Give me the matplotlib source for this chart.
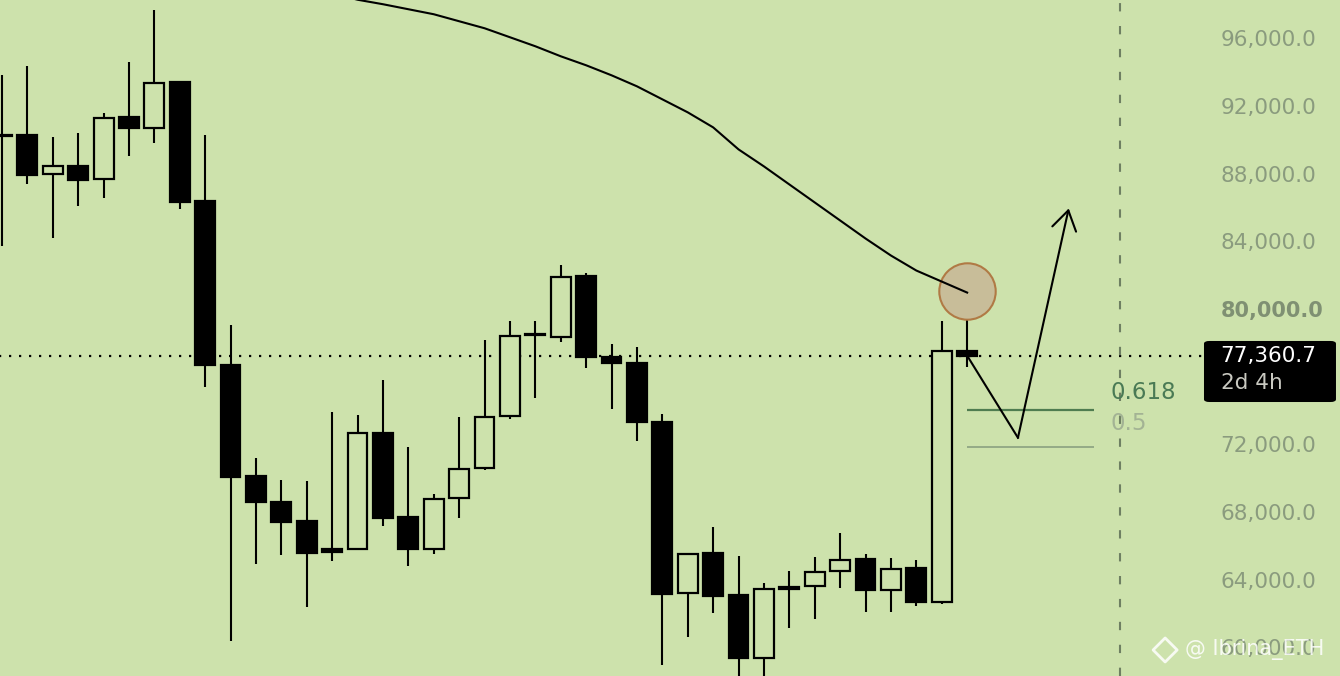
import matplotlib
matplotlib.use("Agg")
import matplotlib.pyplot as plt
import matplotlib.transforms as mtransforms
from matplotlib.patches import FancyBboxPatch

# candle data
opens = [90350, 90380, 88070, 88545, 87775, 91444, 90793, 93515, 86473, 76828,
         70260, 68722, 67598, 65941, 65941, 72805, 67834, 65941, 68959, 70734,
         73811, 78604, 78485, 82095, 77302, 76947, 73456, 63337, 65704, 63219,
         59491, 63690, 63751, 64639, 65349, 63515, 64817, 62805, 77657]
highs = [93929, 94460, 90261, 90497, 91681, 94698, 97775, 93515, 90379, 79195,
         71325, 70024, 69965, 74048, 73870, 75941, 71976, 69195, 73752, 78308,
         79432, 79432, 82746, 82273, 78071, 77894, 73929, 65704, 67243, 65527,
         63929, 64639, 65467, 66888, 65645, 65408, 65290, 79432, 81385]
lows = [83870, 87480, 84343, 86177, 86651, 89136, 89905, 86000, 75527, 60497,
        65053, 65586, 62509, 65231, 65882, 67302, 64935, 65645, 67775, 70615,
        73633, 74876, 78189, 76651, 74225, 72332, 59077, 60734, 62154, 57800,
        57500, 61266, 61799, 63633, 62213, 62213, 62568, 62690, 76710]
closes = [90400, 88010, 88545, 87716, 91385, 90793, 93456, 86414, 76828, 70201,
          68722, 67539, 65704, 65763, 72805, 67775, 65941, 68899, 70675, 73752,
          78544, 78620, 82036, 77302, 76947, 73456, 63278, 65645, 63160, 59491,
          63574, 63574, 64580, 65290, 63515, 64757, 62805, 77657, 77361]

# moving average, from candle 13 on
ma_start = 13
ma_values = [98781, 98396, 98130, 97834, 97538, 97124, 96710, 96178, 95645,
             95053, 94521, 93929, 93278, 92509, 91740, 90852, 89550, 88545,
             87479, 86414, 85349, 84284, 83278, 82391, 81740, 81089]

last_price = 77360.7
countdown = "2d 4h"
fib_levels = [74170, 71980]
fib_labels = ["0.618", "0.5"]
fib_span = (38, 43)
marker_x = 44

# projected path drawn on the chart
path_x = [38, 40, 42]
path_y = [77361, 72510, 86060]

circle_x, circle_y = 38, 81208

tick_values = [96000, 92000, 88000, 84000, 80000, 72000, 68000, 64000, 60000]

bg = "#cde2ac"
fig = plt.figure(figsize=(13.4, 6.76), dpi=100)
fig.patch.set_facecolor(bg)
ax = fig.add_axes([0, 0, 1, 1])
ax.set_facecolor(bg)
ax.set_xlim(-0.079, 52.68)
ax.set_ylim(58430, 98380)
for s in ax.spines.values():
    s.set_visible(False)
ax.set_xticks([])
ax.set_yticks([])

# candles
xs = list(range(len(opens)))
ax.vlines(xs, lows, highs, color="black", lw=1.5, zorder=2)
for i in xs:
    o, c = opens[i], closes[i]
    bottom = min(o, c)
    height = max(abs(c - o), 60)
    face = "black" if c < o else bg
    ax.bar(i, height, bottom=bottom, width=0.78, color=face,
           edgecolor="black", linewidth=1.6, zorder=3)

# moving average
ma_x = list(range(ma_start, ma_start + len(ma_values)))
ax.plot(ma_x, ma_values, color="black", lw=1.5, zorder=4)

# current price dotted line
ax.hlines(last_price, -1, 47.3, color="black", lw=1.6,
          linestyles=(0, (1, 3.5)), zorder=1)

# vertical dashed marker
ax.axvline(marker_x, color="#6e7f62", lw=1.5, ls=(0, (4, 7)), zorder=1)

# fib levels
ax.hlines(fib_levels[0], fib_span[0], fib_span[1], color="#4f7c50", lw=1.6, zorder=2)
ax.hlines(fib_levels[1], fib_span[0], fib_span[1], color="#94aa86", lw=1.4, zorder=2)
ax.text(43.65, 75180, fib_labels[0], color="#4a7a55", fontsize=16.5,
        va="center", ha="left", zorder=5)
ax.text(43.65, 73330, fib_labels[1], color="#a3b394", fontsize=16.5,
        va="center", ha="left", zorder=5)

# highlighted circle
ax.scatter([circle_x], [circle_y], s=1650, facecolor="#c8bd99",
           edgecolor="#b07a45", linewidth=1.5, zorder=3)

# projected path with arrow
ax.plot(path_x[:2], path_y[:2], color="black", lw=1.5, zorder=5)
ax.annotate("", xy=(path_x[2], path_y[2]), xytext=(path_x[1], path_y[1]),
            arrowprops=dict(arrowstyle="->,head_length=0.55,head_width=0.35",
                            color="black", lw=1.5, mutation_scale=25,
                            shrinkA=0, shrinkB=0),
            zorder=5)

# right price scale
trans = mtransforms.blended_transform_factory(ax.transAxes, ax.transData)
for v in tick_values:
    bold = v == 80000
    ax.text(0.911, v, f"{v:,.1f}", transform=trans, ha="left", va="center",
            fontsize=15.5 if not bold else 15, color="#7f9073" if bold else "#8a9b7e",
            fontweight="bold" if bold else "normal", zorder=5)

# price box
box = FancyBboxPatch((0.8985, 0.4053), 0.0985, 0.0903, transform=ax.transAxes,
                     boxstyle="round,pad=0,rounding_size=0.004",
                     facecolor="black", edgecolor="none", zorder=6)
ax.add_patch(box)
ax.text(0.911, last_price, f"{last_price:,.1f}", transform=trans, ha="left",
        va="center", fontsize=15.5, color="white", zorder=7)
ax.text(0.911, 0.4334, countdown, transform=ax.transAxes, ha="left",
        va="center", fontsize=15.5, color="#c9c9c1", zorder=7)

# watermark
ax.scatter([0.8695], [0.0385], transform=ax.transAxes, marker="D", s=150,
           facecolor="none", edgecolor="white", linewidth=2, alpha=0.85, zorder=8)
ax.text(0.884, 0.0385, "@ Ibrina_ETH", transform=ax.transAxes, ha="left",
        va="center", fontsize=15, color="white", alpha=0.85, zorder=8)

fig.savefig("out.png", dpi=100, facecolor=bg)
